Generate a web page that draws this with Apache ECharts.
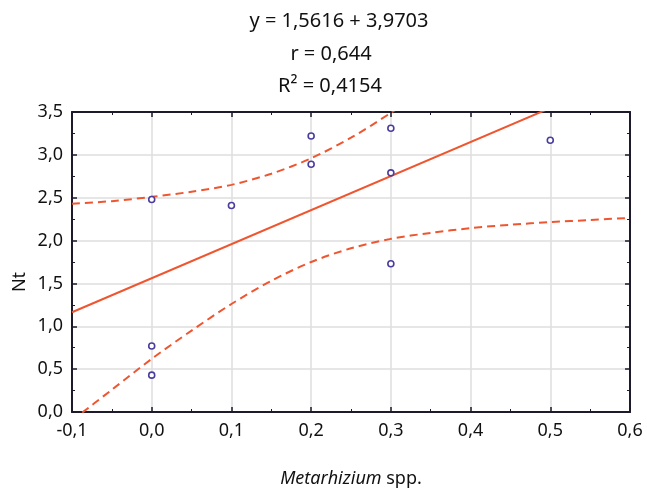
<!DOCTYPE html>
<html lang="en">
<head>
    <meta charset="UTF-8">
    <title>Nt vs Metarhizium</title>
    <script src="https://cdn.jsdelivr.net/npm/echarts@6/dist/echarts.min.js"></script>
    <style>
        html, body { margin: 0; padding: 0; background: #fff; }
    </style>
</head>
<body>
<div id="main" style="width: 647px;height: 488px;"></div>
<script type="text/javascript">
    // observed points
    var ptsX = [0, 0, 0, 0.1, 0.2, 0.2, 0.3, 0.3, 0.3, 0.5];
    var ptsY = [2.48, 0.77, 0.43, 2.41, 3.22, 2.89, 3.31, 2.79, 1.73, 3.17];

    // fitted line (end points)
    var fitX = [-0.1, 0.6];
    var fitY = [1.164, 3.944];

    // confidence band
    var bandX = [-0.1, -0.05, 0, 0.05, 0.1, 0.15, 0.2, 0.25, 0.3, 0.35, 0.4, 0.45, 0.5, 0.55, 0.6];
    var upperY = [2.43, 2.46, 2.51, 2.57, 2.65, 2.78, 2.96, 3.20, 3.49, 3.81, null, null, null, null, null];
    var lowerY = [-0.10, 0.26, 0.62, 0.95, 1.26, 1.53, 1.75, 1.91, 2.02, 2.09, 2.145, 2.185, 2.215, 2.24, 2.265];

    var titleLines = ['y = 1,5616 + 3,9703', 'r = 0,644', 'R\u00B2 = 0,4154'];

    var font = '"Noto Sans", "DejaVu Sans", sans-serif';
    var red = '#ef5630';
    var axisCol = '#1d1a2c';

    function pairs(xs, ys) {
        var out = [];
        for (var i = 0; i < xs.length; i++) {
            out.push([xs[i], ys[i]]);
        }
        return out;
    }
    function comma(v) {
        return v.toFixed(1).replace('.', ',');
    }

    var myChart = echarts.init(document.getElementById('main'));

    var tickIn = {show: true, inside: true, length: 5, lineStyle: {color: axisCol, width: 1.5}};
    var minorIn = {show: true, splitNumber: 2, length: 3, lineStyle: {color: axisCol, width: 1}};

    function txt(s, x, y, size, rot) {
        return {
            type: 'text', x: x, y: y, rotation: rot || 0,
            style: {text: s, fontSize: size, fontFamily: font, fill: '#111',
                textAlign: 'center', textVerticalAlign: 'middle', align: 'center', verticalAlign: 'middle'}
        };
    }

    var option = {
        backgroundColor: '#fff',
        animation: false,
        grid: {left: 72, right: 17, top: 112, bottom: 76, outerBoundsMode: 'none', containLabel: false},
        graphic: [
            txt(titleLines[0], 339, 21, 20),
            txt(titleLines[1], 331, 54, 20),
            txt(titleLines[2], 330, 86, 20),
            txt('Nt', 20, 282, 18, Math.PI / 2)
        ],
        xAxis: [{
            type: 'value',
            min: -0.1,
            max: 0.6,
            interval: 0.1,
            name: '{i|Metarhizium} spp.',
            nameLocation: 'middle',
            nameGap: 58,
            nameTextStyle: {
                fontSize: 18, fontFamily: font, color: '#111',
                rich: {i: {fontSize: 18, fontFamily: font, fontStyle: 'italic', color: '#111'}}
            },
            axisLine: {show: true, onZero: false, lineStyle: {color: axisCol, width: 2}},
            axisTick: tickIn,
            minorTick: minorIn,
            axisLabel: {fontSize: 18, fontFamily: font, color: '#111', margin: 10, formatter: comma},
            splitLine: {show: true, lineStyle: {color: '#dedede', width: 1.5}}
        }, {
            type: 'value',
            position: 'top',
            min: -0.1,
            max: 0.6,
            interval: 0.1,
            axisLine: {show: true, onZero: false, lineStyle: {color: axisCol, width: 2}},
            axisTick: tickIn,
            minorTick: minorIn,
            axisLabel: {show: false},
            splitLine: {show: false}
        }],
        yAxis: [{
            type: 'value',
            min: 0,
            max: 3.5,
            interval: 0.5,
            axisLine: {show: true, onZero: false, lineStyle: {color: axisCol, width: 2}},
            axisTick: tickIn,
            minorTick: minorIn,
            axisLabel: {fontSize: 18, fontFamily: font, color: '#111', margin: 9, formatter: comma},
            splitLine: {show: true, lineStyle: {color: '#dedede', width: 1.5}}
        }, {
            type: 'value',
            position: 'right',
            min: 0,
            max: 3.5,
            interval: 0.5,
            axisLine: {show: true, onZero: false, lineStyle: {color: axisCol, width: 2}},
            axisTick: tickIn,
            minorTick: minorIn,
            axisLabel: {show: false},
            splitLine: {show: false}
        }],
        series: [{
            type: 'line',
            data: pairs(bandX, upperY),
            symbol: 'none',
            smooth: 0.3,
            clip: true,
            lineStyle: {color: red, width: 2, type: [8, 5]}
        }, {
            type: 'line',
            data: pairs(bandX, lowerY),
            symbol: 'none',
            smooth: 0.3,
            clip: true,
            lineStyle: {color: red, width: 2, type: [8, 5]}
        }, {
            type: 'line',
            data: pairs(fitX, fitY),
            symbol: 'none',
            clip: true,
            lineStyle: {color: red, width: 2}
        }, {
            type: 'scatter',
            data: pairs(ptsX, ptsY),
            symbol: 'circle',
            symbolSize: 6,
            z: 5,
            itemStyle: {color: '#fff', borderColor: '#4a3d9e', borderWidth: 1.6, opacity: 1}
        }]
    };
    myChart.setOption(option);
</script>
</body>
</html>
